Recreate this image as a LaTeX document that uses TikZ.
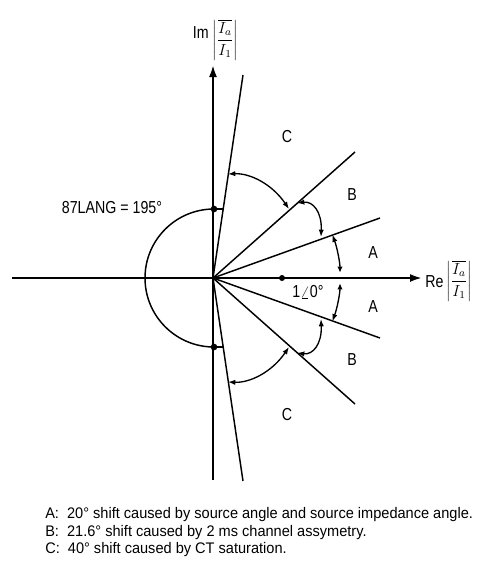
\documentclass[tikz,border=0pt]{standalone}
\usepackage{fontspec}
\setmainfont{Liberation Sans}[FakeStretch=0.82]
\newfontfamily\capfont{Liberation Sans}[FakeStretch=0.95]
\usetikzlibrary{arrows.meta}
\begin{document}
\begin{tikzpicture}[x=0.75pt,y=-0.75pt,
  axisarrow/.style={line width=1.6pt,-{Latex[length=9pt,width=6pt]}},
  ray/.style={line width=1.1pt},
  swing/.style={line width=1pt,{Latex[length=5.5pt,width=4pt]}-{Latex[length=5.5pt,width=4pt]}},
  halfswing/.style={line width=1pt,{Latex[length=4.5pt,width=4pt]}-{Latex[length=5.5pt,width=4pt]}},
  lbl/.style={font=\fontsize{13}{15}\selectfont, inner sep=0pt},
  captext/.style={font=\capfont\fontsize{11.5}{13}\selectfont, anchor=west, inner sep=0pt},
  dot/.style={circle, fill, inner sep=0pt, minimum size=5pt}]
\path (0,0) rectangle (478,569);
% axes
\coordinate (O) at (213,278);
\coordinate (Wend) at (12,278);
\coordinate (Eend) at (422,278);
\coordinate (Send) at (213,480);
\coordinate (Nend) at (213,65);
\draw[axisarrow] (Wend) -- (Eend);
\draw[axisarrow] (Send) -- (Nend);
% rays
\coordinate (Au) at (380,218);
\coordinate (Al) at (380,338);
\coordinate (Bu) at (355,152);
\coordinate (Bl) at (355,404);
\coordinate (Cu) at (243,75);
\coordinate (Cl) at (243,481);
\draw[ray] (O) -- (Au);
\draw[ray] (O) -- (Al);
\draw[ray] (O) -- (Bu);
\draw[ray] (O) -- (Bl);
\draw[ray] (O) -- (Cu);
\draw[ray] (O) -- (Cl);
% arc A (two halves)
\coordinate (Am) at (340,278);
\draw[halfswing, shorten <=4pt] (Am) arc[start angle=0,end angle=-20,radius=127];
\draw[halfswing, shorten <=4pt] (Am) arc[start angle=0,end angle=20,radius=127];
% arc B
\coordinate (B1u) at (321,237);
\coordinate (B2u) at (297,203);
\coordinate (B1l) at (321,319);
\coordinate (B2l) at (297,353);
\draw[swing] (B1u) .. controls (322,212) and (313,201) .. (B2u);
\draw[swing] (B1l) .. controls (322,344) and (313,355) .. (B2l);
% arc C
\coordinate (C1u) at (289,209);
\coordinate (C2u) at (228,174);
\coordinate (C1l) at (289,347);
\coordinate (C2l) at (228,382);
\draw[swing] (C1u) .. controls (272,184) and (250,173) .. (C2u);
\draw[swing] (C1l) .. controls (272,372) and (250,383) .. (C2l);
% 195 deg semicircle
\node[dot] (d1) at (214,209) {};
\node[dot] (d2) at (214,347) {};
\coordinate (s1) at (223,209);
\coordinate (s2) at (223,347);
\draw[ray] (d1.center) arc[start angle=-90,end angle=-270,radius=69];
\draw[ray] (d1.center) -- (s1);
\draw[ray] (d2.center) -- (s2);
% unit point
\node[dot, minimum size=4.5pt] (u) at (282,278) {};
% labels
\node[lbl, anchor=east] (im) at (209,33) {Im};
\node[inner sep=0pt] (imf) at (225,40) {\fontsize{12}{14}\selectfont$\left|\displaystyle\frac{\overline{I_a}}{I_1}\right|$};
\node[lbl, anchor=west] (re) at (425,282) {Re};
\node[inner sep=0pt] (ref) at (459,281) {\fontsize{12}{14}\selectfont$\left|\displaystyle\frac{\overline{I_a}}{I_1}\right|$};
\node[lbl] (lc1) at (287,137) {C};
\node[lbl] (lb1) at (352,195) {B};
\node[lbl] (la1) at (373,253) {A};
\node[lbl] (la2) at (373,307) {A};
\node[lbl] (lb2) at (352,360) {B};
\node[lbl] (lc2) at (287,415) {C};
\node[lbl] (lang) at (112,208) {87LANG = 195°};
\node[lbl] (one) at (308,292) {1$\angle$0°};
% captions
\node[captext] (capA) at (45,515) {A:\ \ 20° shift caused by source angle and source impedance angle.};
\node[captext] (capB) at (45,533) {B:\ \ 21.6° shift caused by 2 ms channel assymetry.};
\node[captext] (capC) at (45,550) {C:\ \ 40° shift caused by CT saturation.};
\end{tikzpicture}
\end{document}
